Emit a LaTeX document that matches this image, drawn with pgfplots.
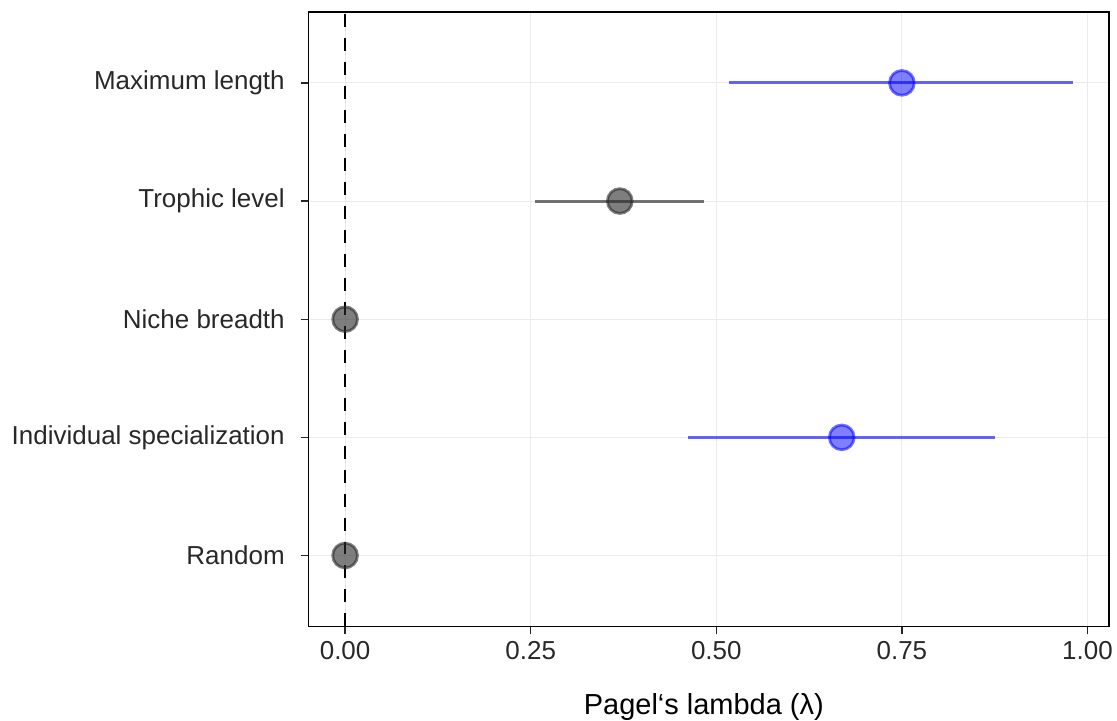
\documentclass[border=0pt]{standalone}
\usepackage{pgfplots}
\usepackage{pgfplotstable}
\usepackage{fontspec}
\setmainfont{Liberation Sans}
\pgfplotsset{compat=1.18}
\definecolor{gridgray}{RGB}{235,235,235}
\definecolor{ptblue}{RGB}{0,0,255}
\definecolor{ptgray}{RGB}{40,40,40}
\definecolor{labgray}{RGB}{40,40,40}

% y: 1 = Random ... 5 = Maximum length
\pgfplotstableread{
x     y
0.750 5
0.669 2
}\sigtab
\pgfplotstableread{
x     y
0.370 4
0.000 3
0.000 1
}\nstab

\begin{document}
\begin{tikzpicture}
\begin{axis}[
  scale only axis,
  width=400.5pt, height=307.5pt,
  xmin=-0.049, xmax=1.029,
  ymin=0.4, ymax=5.6,
  xtick={0,0.25,0.5,0.75,1},
  xticklabel style={/pgf/number format/.cd, fixed, fixed zerofill, precision=2},
  /pgf/number format/assume math mode=true,
  ytick={1,2,3,4,5},
  yticklabels={Random, Individual specialization, Niche breadth, Trophic level, Maximum length},
  tick label style={font=\fontsize{13}{15}\selectfont, text=labgray},
  yticklabel style={xshift=-4.5pt},
  tick align=outside,
  tick pos=lower,
  major tick length=4pt,
  tick style={black!85, line width=0.7pt},
  axis line style={black, line width=0.7pt},
  grid=major,
  grid style={gridgray, line width=0.5pt},
  xlabel={Pagel‘s lambda (λ)},
  xlabel style={font=\fontsize{14.5}{17}\selectfont, yshift=-10pt, xshift=-2.5pt},
  clip=false,
]
\addplot[black, line width=1.4pt, dash pattern=on 6.5pt off 5.5pt] coordinates {(0,0.4) (0,5.6)};
% confidence intervals
\addplot[ptgray, opacity=0.65, line width=1.5pt] coordinates {(0.256,4) (0.483,4)};
\addplot[ptblue, opacity=0.6, line width=1.5pt] coordinates {(0.517,5) (0.980,5)};
\addplot[ptblue, opacity=0.6, line width=1.5pt] coordinates {(0.462,2) (0.875,2)};
% estimates
\addplot[only marks, mark=*, mark size=6.2pt,
  mark options={fill=ptgray, fill opacity=0.6, draw=ptgray, draw opacity=0.6, line width=1.4pt}]
  table[x=x, y=y] {\nstab};
\addplot[only marks, mark=*, mark size=6.2pt,
  mark options={fill=ptblue, fill opacity=0.5, draw=ptblue, draw opacity=0.55, line width=1.4pt}]
  table[x=x, y=y] {\sigtab};
\end{axis}
\pgfresetboundingbox
\path[use as bounding box] ([shift={(-154.5pt,-47pt)}]current axis.south west) rectangle ([shift={(4pt,6pt)}]current axis.north east);
\end{tikzpicture}
\end{document}
